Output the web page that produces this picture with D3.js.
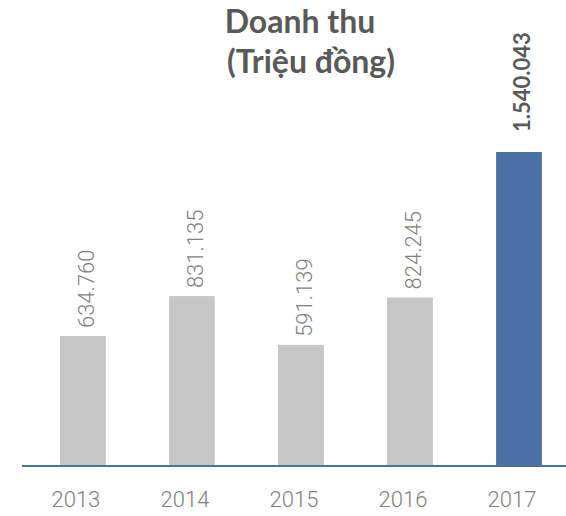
<!DOCTYPE html>
<html>
<head>
<meta charset="utf-8">
<script src="https://cdn.jsdelivr.net/npm/d3@7"></script>
<style>
  body { margin: 0; background: #fff; }
  svg { display: block; font-family: "Source Sans Pro", Lato, sans-serif; }
  .light { font-family: "Source Sans Pro Light", Roboto, sans-serif; }
</style>
</head>
<body>
<div id="chart"></div>
<script>
// du lieu
const years = ['2013', '2014', '2015', '2016', '2017']
const revenue = [634760, 831135, 591139, 824245, 1540043]
const highlight = ['2017']
const titleLines = ['Doanh thu', '(Triệu đồng)']

const width = 566, height = 516
const margin = {left: 22, right: 0, top: 152, bottom: 51}
const baseY = height - margin.bottom

const vn = d3.formatLocale({decimal: ',', thousands: '.', grouping: [3], currency: ['', '']})
const fmt = vn.format(',d')

const data = years.map((y, i) => ({year: y, value: revenue[i]}))

const svg = d3.select('#chart')
    .append('svg')
    .attr('width', width)
    .attr('height', height)

const x = d3.scaleBand()
    .domain(years)
    .range([27.3, 574.6])
    .paddingInner(0.58)
    .paddingOuter(0.3)

const y = d3.scaleLinear()
    .domain([0, d3.max(revenue)])
    .range([baseY, margin.top])

// tieu de
svg.append('g')
    .selectAll('text')
    .data(titleLines)
    .enter()
    .append('text')
    .attr('x', (d, i) => i === 0 ? 300 : 311)
    .attr('y', (d, i) => 33 + i * 40)
    .attr('text-anchor', 'middle')
    .attr('font-size', 32)
    .attr('font-weight', 700)
    .attr('fill', '#595959')
    .text(d => d)

// cot
svg.selectAll('rect.bar')
    .data(data)
    .enter()
    .append('rect')
    .attr('class', 'bar')
    .attr('x', d => x(d.year))
    .attr('y', d => y(d.value))
    .attr('width', x.bandwidth())
    .attr('height', d => baseY - y(d.value))
    .attr('fill', d => highlight.includes(d.year) ? '#4a70a4' : '#c6c6c6')

// nhan gia tri
svg.selectAll('text.val')
    .data(data)
    .enter()
    .append('text')
    .attr('class', d => highlight.includes(d.year) ? 'val' : 'val light')
    .attr('transform', d => {
        const hl = highlight.includes(d.year)
        const cx = x(d.year) + x.bandwidth() / 2 + 11
        const cy = y(d.value) - (hl ? 20 : 8)
        return `translate(${cx},${cy}) rotate(-90)`
    })
    .attr('font-size', 22)
    .attr('font-weight', d => highlight.includes(d.year) ? 700 : 300)
    .attr('fill', d => highlight.includes(d.year) ? '#595959' : '#7f7f7f')
    .text(d => fmt(d.value))

// truc x
const xAxis = d3.axisBottom(x).tickSize(0).tickPadding(0)
const gx = svg.append('g')
    .attr('transform', `translate(0,${baseY})`)
    .call(xAxis)
gx.select('.domain').remove()
gx.append('line')
    .attr('x1', margin.left)
    .attr('x2', width)
    .attr('y1', 1)
    .attr('y2', 1)
    .attr('stroke', '#4a70a4')
    .attr('stroke-width', 2)
gx.selectAll('.tick text')
    .attr('class', 'light')
    .attr('x', -7)
    .attr('y', 42)
    .attr('dy', null)
    .attr('font-family', null)
    .attr('font-size', 22)
    .attr('font-weight', 300)
    .attr('fill', '#7f7f7f')
</script>
</body>
</html>
